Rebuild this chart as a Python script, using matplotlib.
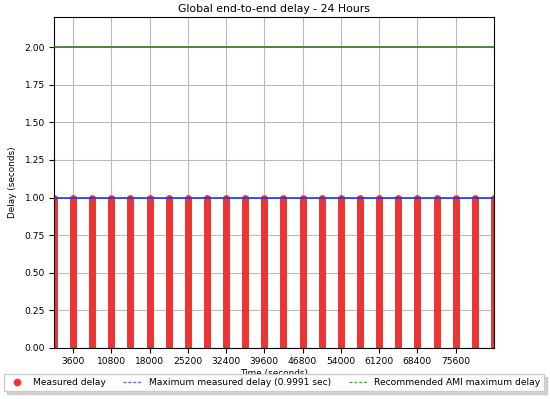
import matplotlib
matplotlib.use('Agg')
import matplotlib.pyplot as plt
from matplotlib.lines import Line2D

# hourly sample times (seconds) and range of measured delays in each hour
hours = [0, 3600, 7200, 10800, 14400, 18000, 21600, 25200, 28800, 32400,
         36000, 39600, 43200, 46800, 50400, 54000, 57600, 61200, 64800,
         68400, 72000, 75600, 79200, 82800]
delay_min = [0.0] * 24
delay_max = [0.9991, 0.9990, 0.9991, 0.9990, 0.9991, 0.9990, 0.9991, 0.9990,
             0.9991, 0.9990, 0.9991, 0.9990, 0.9991, 0.9990, 0.9991, 0.9990,
             0.9991, 0.9990, 0.9991, 0.9990, 0.9991, 0.9990, 0.9991, 0.9990]
max_delay = 0.9991
ami_max_delay = 2.0
xticks = [3600, 10800, 18000, 25200, 32400, 39600, 46800, 54000, 61200, 68400, 75600]
yticks = [0.0, 0.25, 0.5, 0.75, 1.0, 1.25, 1.5, 1.75, 2.0]

fig = plt.figure(figsize=(5.5, 3.99), dpi=100)
ax = fig.add_axes([0.098, 0.128, 0.8, 0.829])

ax.vlines(hours, delay_min, delay_max, colors='#ee3333', linewidth=5,
          capstyle='round', zorder=2)
ax.axhline(max_delay, color='#2233ee', lw=1.2, zorder=3)
ax.axhline(ami_max_delay, color='#2e7d1e', lw=1.2, zorder=3)

ax.set_xlim(hours[0], hours[-1])
ax.set_ylim(0, 2.2)
ax.set_xticks(xticks)
ax.set_yticks(yticks)
ax.set_yticklabels(['%.2f' % v for v in yticks])
ax.tick_params(labelsize=6.6, length=3.5, pad=3)
ax.grid(True, color='#bbbbbb', lw=0.8)
ax.set_axisbelow(True)

ax.set_title("Global end-to-end delay - 24 Hours", fontsize=7.8, pad=4)
ax.set_xlabel("Time (seconds)", fontsize=6.4, labelpad=2)
ax.set_ylabel("Delay (seconds)", fontsize=6.4, labelpad=5)

handles = [
    Line2D([], [], ls='none', marker='o', color='#ee3333', markersize=4.5),
    Line2D([], [], ls=(0, (2.2, 1.3)), color='#6666ff', lw=1),
    Line2D([], [], ls=(0, (2.2, 1.3)), color='#55aa44', lw=1),
]
labels = ['Measured delay', 'Maximum measured delay (%.4f sec)' % max_delay,
          'Recommended AMI maximum delay']
ax.legend(handles, labels, loc='upper center', bbox_to_anchor=(0.5, -0.08),
          ncol=3, fontsize=6.6, shadow={'color': '#aaaaaa'}, fancybox=False,
          handlelength=2.0, columnspacing=1.9, borderaxespad=0, framealpha=1,
          edgecolor='#cccccc')

plt.savefig('out.png', dpi=100)
